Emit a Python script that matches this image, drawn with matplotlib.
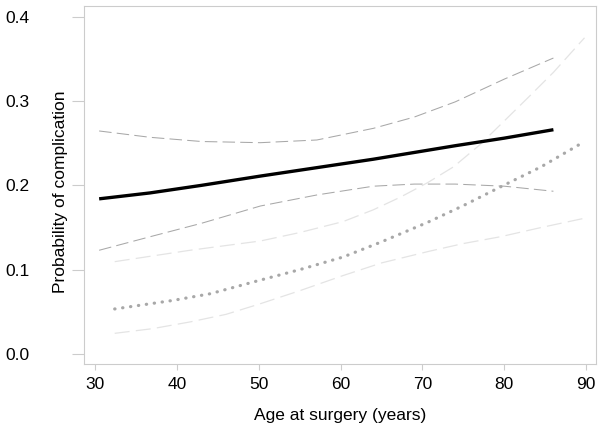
import numpy as np
import matplotlib
matplotlib.use("Agg")
import matplotlib.pyplot as plt

plt.rcParams['font.family'] = ['Liberation Sans', 'DejaVu Sans']

# fitted probability (solid) and its confidence band (dark dashed)
age_fit = [30.5, 36.7, 43.0, 50.2, 57.1, 64.0, 69.0, 74.0, 80.0, 86.0]
prob_fit = [0.184, 0.191, 0.200, 0.211, 0.221, 0.231, 0.239, 0.247, 0.256, 0.266]
upper_fit = [0.2645, 0.257, 0.252, 0.2506, 0.2538, 0.2676, 0.281, 0.299, 0.326, 0.351]
lower_fit = [0.123, 0.139, 0.155, 0.1755, 0.1886, 0.199, 0.2015, 0.2015, 0.199, 0.193]

# second model (dotted) and its band (light dashed)
age_alt = [32.4, 39.5, 44.1, 49.8, 55.0, 60.3, 65.0, 70.6, 75.0, 79.5, 84.5, 89.8]
prob_alt = [0.0534, 0.0635, 0.0715, 0.0866, 0.100, 0.115, 0.133, 0.156, 0.176, 0.198, 0.222, 0.252]

age_upper_alt = [32.4, 41.6, 50.2, 55.0, 60.3, 64.0, 67.3, 70.6, 73.8, 77.0, 79.9, 83.0, 86.0, 89.8]
upper_alt = [0.1095, 0.123, 0.134, 0.144, 0.157, 0.171, 0.186, 0.203, 0.222, 0.248, 0.2755, 0.305, 0.334, 0.375]

age_lower_alt = [32.4, 37.0, 41.6, 46.0, 50.0, 55.0, 60.3, 65.0, 70.9, 75.0, 79.5, 84.5, 89.8]
lower_alt = [0.0245, 0.030, 0.038, 0.047, 0.059, 0.075, 0.093, 0.108, 0.122, 0.131, 0.139, 0.150, 0.161]

x_ticks = [30, 40, 50, 60, 70, 80, 90]
y_ticks = [0.0, 0.1, 0.2, 0.3, 0.4]

fig = plt.figure(figsize=(6, 4.26), dpi=100)
ax = fig.add_axes([0.14, 0.1455, 0.8533, 0.8404])

ax.plot(age_fit, upper_fit, color='#a8a8a8', lw=0.75, dashes=(12, 5))
ax.plot(age_fit, lower_fit, color='#a8a8a8', lw=0.75, dashes=(12, 5))
ax.plot(age_upper_alt, upper_alt, color='#e4e4e4', lw=0.9, dashes=(12, 5))
ax.plot(age_lower_alt, lower_alt, color='#e4e4e4', lw=0.9, dashes=(12, 5))
ax.plot(age_alt, prob_alt, color='#a8a8a8', lw=2.3, linestyle=(0, (0.1, 2.4)),
        dash_capstyle='round')
ax.plot(age_fit, prob_fit, color='black', lw=2.4, solid_capstyle='butt')

ax.set_xlim(28.65, 91.2)
ax.set_ylim(-0.0119, 0.4127)
ax.set_xticks(x_ticks)
ax.set_yticks(y_ticks)
ax.set_xticklabels([str(v) for v in x_ticks])
ax.set_yticklabels([f"{v:.1f}" for v in y_ticks])

for s in ax.spines.values():
    s.set_color('#cccccc')
    s.set_linewidth(0.8)

ax.tick_params(axis='x', length=4, width=0.8, color='#cccccc', labelsize=12.5, pad=5)
ax.tick_params(axis='y', length=9, width=0.8, color='#cccccc', labelsize=12.5, pad=30)

ax.set_xlabel("Age at surgery (years)", fontsize=12.5, labelpad=12)
ax.set_ylabel("Probability of complication", fontsize=12.5)
ax.yaxis.set_label_coords(-0.031, 0.48)

fig.savefig("out.png", dpi=100)
